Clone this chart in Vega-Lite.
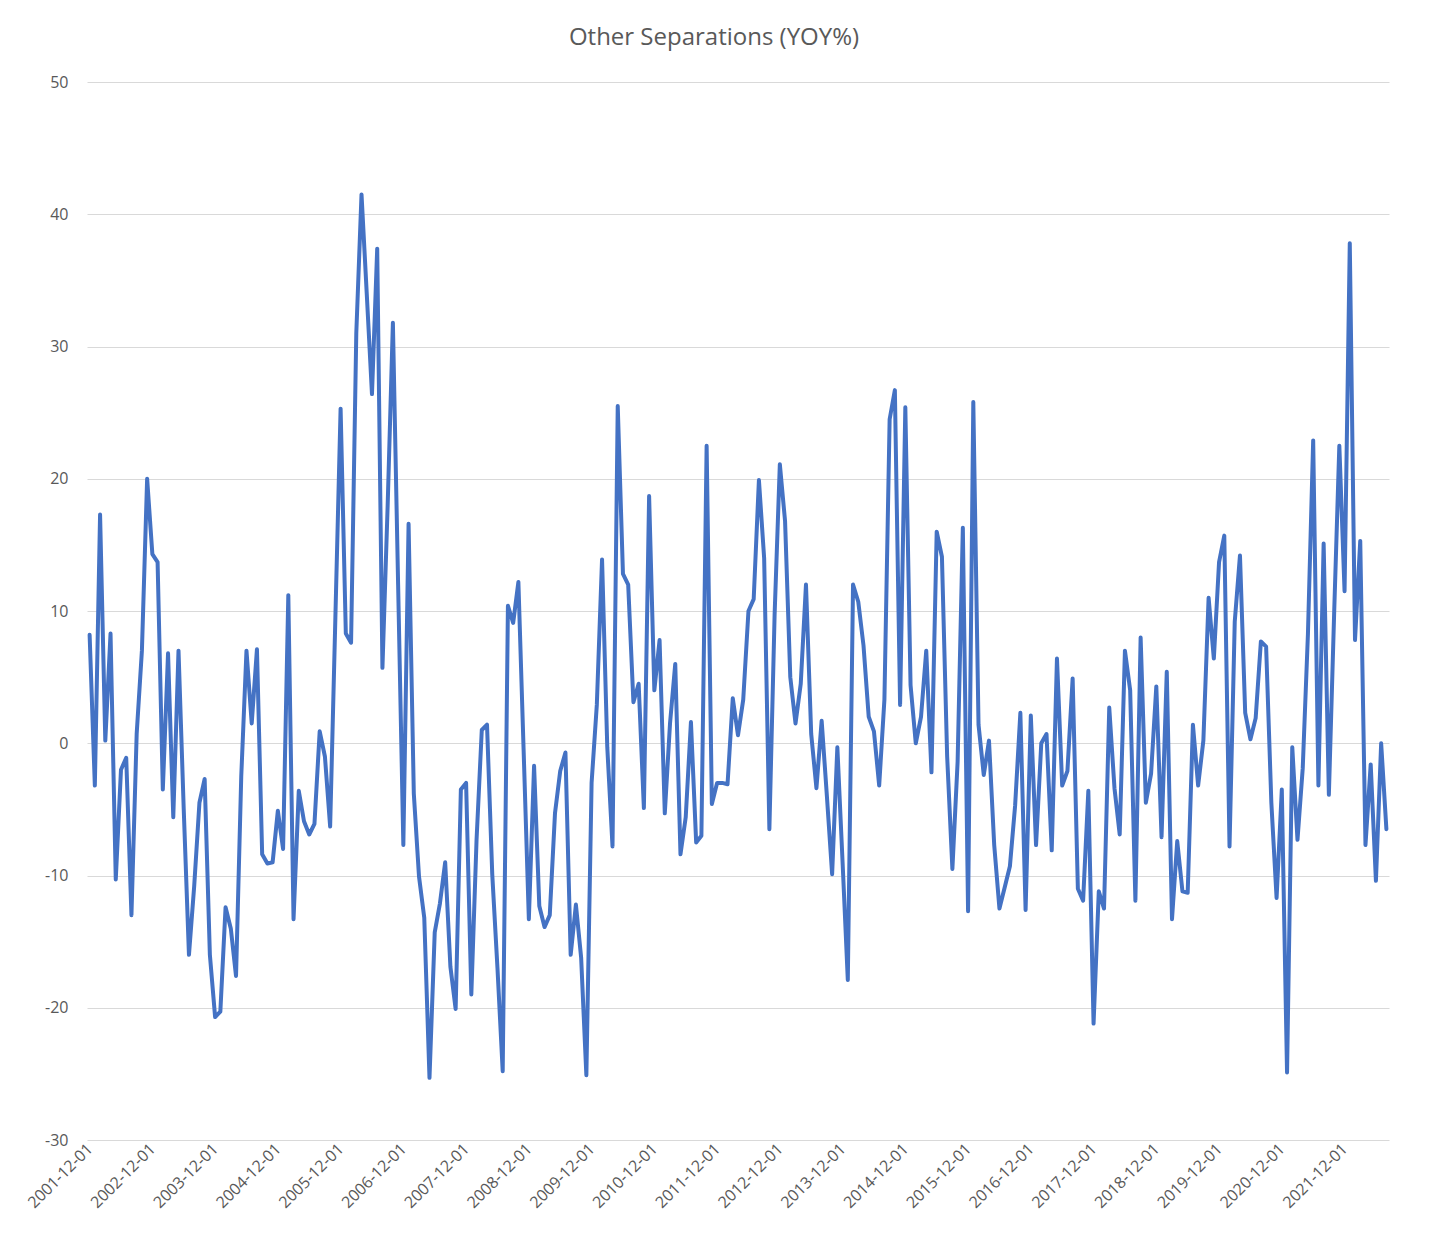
{
  "$schema": "https://vega.github.io/schema/vega-lite/v6.json",
  "autosize": {"type": "none"},
  "width": 1302,
  "height": 1058,
  "padding": {"left": 87, "top": 82, "right": 42, "bottom": 114},
  "background": "white",
  "title": {"text": "Other Separations (YOY%)", "font": "Open Sans", "fontSize": 24, "fontWeight": "normal", "color": "#595959", "offset": 24, "dx": -24, "anchor": "middle"},
  "config": {"view": {"stroke": null}},
  "data": {"values": [
    {"d":"2001-12-01","v":8.2},
    {"d":"2002-01-01","v":-3.2},{"d":"2002-02-01","v":17.3},{"d":"2002-03-01","v":0.2},{"d":"2002-04-01","v":8.3},{"d":"2002-05-01","v":-10.3},{"d":"2002-06-01","v":-2.0},{"d":"2002-07-01","v":-1.1},{"d":"2002-08-01","v":-13.0},{"d":"2002-09-01","v":0.7},{"d":"2002-10-01","v":7.0},{"d":"2002-11-01","v":20.0},{"d":"2002-12-01","v":14.3},
    {"d":"2003-01-01","v":13.7},{"d":"2003-02-01","v":-3.5},{"d":"2003-03-01","v":6.8},{"d":"2003-04-01","v":-5.6},{"d":"2003-05-01","v":7.0},{"d":"2003-06-01","v":-5.0},{"d":"2003-07-01","v":-16.0},{"d":"2003-08-01","v":-10.8},{"d":"2003-09-01","v":-4.5},{"d":"2003-10-01","v":-2.7},{"d":"2003-11-01","v":-16.0},{"d":"2003-12-01","v":-20.7},
    {"d":"2004-01-01","v":-20.3},{"d":"2004-02-01","v":-12.4},{"d":"2004-03-01","v":-14.0},{"d":"2004-04-01","v":-17.6},{"d":"2004-05-01","v":-2.5},{"d":"2004-06-01","v":7.0},{"d":"2004-07-01","v":1.5},{"d":"2004-08-01","v":7.1},{"d":"2004-09-01","v":-8.4},{"d":"2004-10-01","v":-9.1},{"d":"2004-11-01","v":-9.0},{"d":"2004-12-01","v":-5.1},
    {"d":"2005-01-01","v":-8.0},{"d":"2005-02-01","v":11.2},{"d":"2005-03-01","v":-13.3},{"d":"2005-04-01","v":-3.6},{"d":"2005-05-01","v":-5.9},{"d":"2005-06-01","v":-6.9},{"d":"2005-07-01","v":-6.1},{"d":"2005-08-01","v":0.9},{"d":"2005-09-01","v":-1.0},{"d":"2005-10-01","v":-6.3},{"d":"2005-11-01","v":9.5},{"d":"2005-12-01","v":25.3},
    {"d":"2006-01-01","v":8.3},{"d":"2006-02-01","v":7.6},{"d":"2006-03-01","v":31.0},{"d":"2006-04-01","v":41.5},{"d":"2006-05-01","v":34.0},{"d":"2006-06-01","v":26.4},{"d":"2006-07-01","v":37.4},{"d":"2006-08-01","v":5.7},{"d":"2006-09-01","v":18.0},{"d":"2006-10-01","v":31.8},{"d":"2006-11-01","v":12.0},{"d":"2006-12-01","v":-7.7},
    {"d":"2007-01-01","v":16.6},{"d":"2007-02-01","v":-3.8},{"d":"2007-03-01","v":-10.1},{"d":"2007-04-01","v":-13.2},{"d":"2007-05-01","v":-25.3},{"d":"2007-06-01","v":-14.3},{"d":"2007-07-01","v":-12.1},{"d":"2007-08-01","v":-9.0},{"d":"2007-09-01","v":-16.9},{"d":"2007-10-01","v":-20.1},{"d":"2007-11-01","v":-3.5},{"d":"2007-12-01","v":-3.0},
    {"d":"2008-01-01","v":-19.0},{"d":"2008-02-01","v":-7.3},{"d":"2008-03-01","v":1.0},{"d":"2008-04-01","v":1.4},{"d":"2008-05-01","v":-9.9},{"d":"2008-06-01","v":-17.0},{"d":"2008-07-01","v":-24.8},{"d":"2008-08-01","v":10.4},{"d":"2008-09-01","v":9.1},{"d":"2008-10-01","v":12.2},{"d":"2008-11-01","v":-0.5},{"d":"2008-12-01","v":-13.3},
    {"d":"2009-01-01","v":-1.7},{"d":"2009-02-01","v":-12.3},{"d":"2009-03-01","v":-13.9},{"d":"2009-04-01","v":-13.0},{"d":"2009-05-01","v":-5.3},{"d":"2009-06-01","v":-2.1},{"d":"2009-07-01","v":-0.7},{"d":"2009-08-01","v":-16.0},{"d":"2009-09-01","v":-12.2},{"d":"2009-10-01","v":-16.2},{"d":"2009-11-01","v":-25.1},{"d":"2009-12-01","v":-3.0},
    {"d":"2010-01-01","v":2.9},{"d":"2010-02-01","v":13.9},{"d":"2010-03-01","v":-0.3},{"d":"2010-04-01","v":-7.8},{"d":"2010-05-01","v":25.5},{"d":"2010-06-01","v":12.8},{"d":"2010-07-01","v":12.0},{"d":"2010-08-01","v":3.1},{"d":"2010-09-01","v":4.5},{"d":"2010-10-01","v":-4.9},{"d":"2010-11-01","v":18.7},{"d":"2010-12-01","v":4.0},
    {"d":"2011-01-01","v":7.8},{"d":"2011-02-01","v":-5.3},{"d":"2011-03-01","v":1.5},{"d":"2011-04-01","v":6.0},{"d":"2011-05-01","v":-8.4},{"d":"2011-06-01","v":-5.6},{"d":"2011-07-01","v":1.6},{"d":"2011-08-01","v":-7.5},{"d":"2011-09-01","v":-7.0},{"d":"2011-10-01","v":22.5},{"d":"2011-11-01","v":-4.6},{"d":"2011-12-01","v":-3.0},
    {"d":"2012-01-01","v":-3.0},{"d":"2012-02-01","v":-3.1},{"d":"2012-03-01","v":3.4},{"d":"2012-04-01","v":0.6},{"d":"2012-05-01","v":3.3},{"d":"2012-06-01","v":10.0},{"d":"2012-07-01","v":10.9},{"d":"2012-08-01","v":19.9},{"d":"2012-09-01","v":14.0},{"d":"2012-10-01","v":-6.5},{"d":"2012-11-01","v":9.7},{"d":"2012-12-01","v":21.1},
    {"d":"2013-01-01","v":16.8},{"d":"2013-02-01","v":5.0},{"d":"2013-03-01","v":1.5},{"d":"2013-04-01","v":4.5},{"d":"2013-05-01","v":12.0},{"d":"2013-06-01","v":0.7},{"d":"2013-07-01","v":-3.4},{"d":"2013-08-01","v":1.7},{"d":"2013-09-01","v":-4.0},{"d":"2013-10-01","v":-9.9},{"d":"2013-11-01","v":-0.3},{"d":"2013-12-01","v":-9.0},
    {"d":"2014-01-01","v":-17.9},{"d":"2014-02-01","v":12.0},{"d":"2014-03-01","v":10.7},{"d":"2014-04-01","v":7.4},{"d":"2014-05-01","v":2.0},{"d":"2014-06-01","v":0.9},{"d":"2014-07-01","v":-3.2},{"d":"2014-08-01","v":3.3},{"d":"2014-09-01","v":24.5},{"d":"2014-10-01","v":26.7},{"d":"2014-11-01","v":2.9},{"d":"2014-12-01","v":25.4},
    {"d":"2015-01-01","v":4.4},{"d":"2015-02-01","v":0.0},{"d":"2015-03-01","v":2.0},{"d":"2015-04-01","v":7.0},{"d":"2015-05-01","v":-2.2},{"d":"2015-06-01","v":16.0},{"d":"2015-07-01","v":14.1},{"d":"2015-08-01","v":-1.0},{"d":"2015-09-01","v":-9.5},{"d":"2015-10-01","v":-1.4},{"d":"2015-11-01","v":16.3},{"d":"2015-12-01","v":-12.7},
    {"d":"2016-01-01","v":25.8},{"d":"2016-02-01","v":1.4},{"d":"2016-03-01","v":-2.4},{"d":"2016-04-01","v":0.2},{"d":"2016-05-01","v":-7.7},{"d":"2016-06-01","v":-12.5},{"d":"2016-07-01","v":-10.9},{"d":"2016-08-01","v":-9.3},{"d":"2016-09-01","v":-4.7},{"d":"2016-10-01","v":2.3},{"d":"2016-11-01","v":-12.6},{"d":"2016-12-01","v":2.1},
    {"d":"2017-01-01","v":-7.7},{"d":"2017-02-01","v":0.0},{"d":"2017-03-01","v":0.7},{"d":"2017-04-01","v":-8.1},{"d":"2017-05-01","v":6.4},{"d":"2017-06-01","v":-3.2},{"d":"2017-07-01","v":-2.1},{"d":"2017-08-01","v":4.9},{"d":"2017-09-01","v":-11.0},{"d":"2017-10-01","v":-11.9},{"d":"2017-11-01","v":-3.6},{"d":"2017-12-01","v":-21.2},
    {"d":"2018-01-01","v":-11.2},{"d":"2018-02-01","v":-12.5},{"d":"2018-03-01","v":2.7},{"d":"2018-04-01","v":-3.4},{"d":"2018-05-01","v":-6.9},{"d":"2018-06-01","v":7.0},{"d":"2018-07-01","v":4.0},{"d":"2018-08-01","v":-11.9},{"d":"2018-09-01","v":8.0},{"d":"2018-10-01","v":-4.5},{"d":"2018-11-01","v":-2.3},{"d":"2018-12-01","v":4.3},
    {"d":"2019-01-01","v":-7.1},{"d":"2019-02-01","v":5.4},{"d":"2019-03-01","v":-13.3},{"d":"2019-04-01","v":-7.4},{"d":"2019-05-01","v":-11.2},{"d":"2019-06-01","v":-11.3},{"d":"2019-07-01","v":1.4},{"d":"2019-08-01","v":-3.2},{"d":"2019-09-01","v":0.2},{"d":"2019-10-01","v":11.0},{"d":"2019-11-01","v":6.4},{"d":"2019-12-01","v":13.7},
    {"d":"2020-01-01","v":15.7},{"d":"2020-02-01","v":-7.8},{"d":"2020-03-01","v":9.2},{"d":"2020-04-01","v":14.2},{"d":"2020-05-01","v":2.3},{"d":"2020-06-01","v":0.3},{"d":"2020-07-01","v":1.9},{"d":"2020-08-01","v":7.7},{"d":"2020-09-01","v":7.3},{"d":"2020-10-01","v":-4.5},{"d":"2020-11-01","v":-11.7},{"d":"2020-12-01","v":-3.5},
    {"d":"2021-01-01","v":-24.9},{"d":"2021-02-01","v":-0.3},{"d":"2021-03-01","v":-7.3},{"d":"2021-04-01","v":-1.9},{"d":"2021-05-01","v":8.3},{"d":"2021-06-01","v":22.9},{"d":"2021-07-01","v":-3.2},{"d":"2021-08-01","v":15.1},{"d":"2021-09-01","v":-3.9},{"d":"2021-10-01","v":9.7},{"d":"2021-11-01","v":22.5},{"d":"2021-12-01","v":11.5},
    {"d":"2022-01-01","v":37.8},{"d":"2022-02-01","v":7.8},{"d":"2022-03-01","v":15.3},{"d":"2022-04-01","v":-7.7},{"d":"2022-05-01","v":-1.6},{"d":"2022-06-01","v":-10.4},{"d":"2022-07-01","v":0.0},{"d":"2022-08-01","v":-6.5}
  ]},
  "mark": {"type": "line", "color": "#4472C4", "strokeWidth": 4, "strokeJoin": "round", "strokeCap": "round"},
  "encoding": {
    "x": {
      "field": "d", "type": "ordinal", "sort": null,
      "scale": {"type": "point", "padding": 0.5},
      "axis": {
        "title": null,
        "values": ["2001-12-01","2002-12-01","2003-12-01","2004-12-01","2005-12-01","2006-12-01","2007-12-01","2008-12-01","2009-12-01","2010-12-01","2011-12-01","2012-12-01","2013-12-01","2014-12-01","2015-12-01","2016-12-01","2017-12-01","2018-12-01","2019-12-01","2020-12-01","2021-12-01"],
        "labelAngle": -45, "labelAlign": "right", "labelBaseline": "middle",
        "labelFont": "Open Sans", "labelFontSize": 16, "labelColor": "#595959",
        "labelPadding": 6, "domain": false, "ticks": false, "grid": false
      }
    },
    "y": {
      "field": "v", "type": "quantitative",
      "scale": {"domain": [-30, 50], "nice": false},
      "axis": {
        "title": null,
        "values": [-30, -20, -10, 0, 10, 20, 30, 40, 50],
        "labelExpr": "toString(datum.value)",
        "labelFont": "Open Sans", "labelFontSize": 16, "labelColor": "#595959",
        "labelPadding": 19, "domain": false, "ticks": false,
        "grid": true, "gridColor": "#d9d9d9", "gridWidth": 1
      }
    }
  }
}
